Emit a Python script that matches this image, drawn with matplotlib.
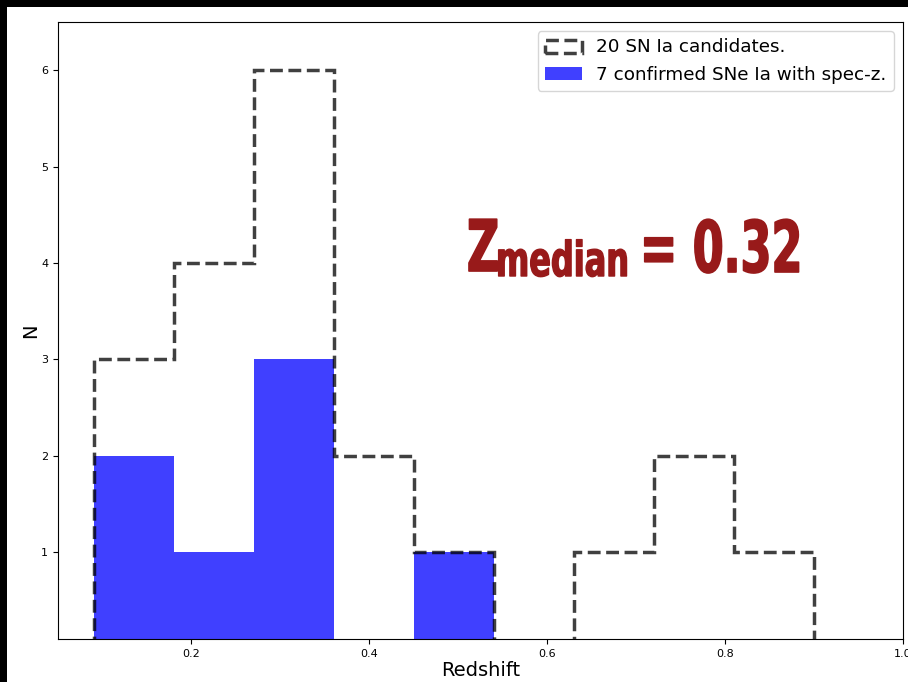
import numpy as np
import matplotlib
matplotlib.use("Agg")
import matplotlib.pyplot as plt
from matplotlib.patches import Rectangle
from matplotlib.patheffects import AbstractPathEffect
from matplotlib.transforms import Affine2D

# redshift bins and counts per bin
bin_edges = [0.09, 0.18, 0.27, 0.36, 0.45, 0.54, 0.63, 0.72, 0.81, 0.90]
n_candidates = [3, 4, 6, 2, 1, 0, 1, 2, 1]
n_confirmed = [2, 1, 3, 0, 1, 0, 0, 0, 0]
z_median = 0.32

label_cand = "20 SN Ia candidates."
label_conf = "7 confirmed SNe Ia with spec-z."


class Tall(AbstractPathEffect):
    """Stretch glyphs upward from the baseline and thicken them a little."""

    def __init__(self, sy, lw=1.0):
        super().__init__()
        self.sy = sy
        self.lw = lw

    def draw_path(self, renderer, gc, tpath, affine, rgbFace=None):
        gc0 = renderer.new_gc()
        gc0.copy_properties(gc)
        gc0.set_linewidth(self.lw)
        gc0.set_foreground(rgbFace)
        renderer.draw_path(gc0, tpath, Affine2D().scale(1, self.sy) + affine, rgbFace)
        gc0.restore()


fig = plt.figure(figsize=(9.08, 6.82), dpi=100)
fig.patch.set_facecolor("black")
fig.patches.append(Rectangle((7 / 908, 0), 1, 675 / 682, transform=fig.transFigure,
                             facecolor="white", edgecolor="none", zorder=-1))

ax = fig.add_axes([58 / 908, 43 / 682, 845 / 908, 617 / 682])

centres = np.array(bin_edges[:-1]) + 0.045
ax.hist(centres, bins=bin_edges, weights=n_candidates, histtype="step",
        ls="--", lw=2.5, color="k", alpha=0.75, label=label_cand)
ax.hist(centres, bins=bin_edges, weights=n_confirmed, color="b", alpha=0.75,
        label=label_conf)

ax.set_xlim(0.05, 1.0)
ax.set_ylim(0.1, 6.5)
ax.tick_params(labelsize=8)
ax.set_xlabel("Redshift", fontsize=14, labelpad=2)
ax.set_ylabel("N", fontsize=14, labelpad=1)
ax.legend(loc="upper right", fontsize=13.2)

red = "#981a1a"
kw = dict(transform=ax.transAxes, fontweight="bold", color=red, va="baseline")
ax.text(0.4840, 0.5964, "Z", fontsize=32, path_effects=[Tall(1.6, 1.2)], **kw)
ax.text(0.5183, 0.5883, "median", fontsize=23, path_effects=[Tall(1.5, 1.0)], **kw)
ax.text(0.6888, 0.5948, "= {:.2f}".format(z_median), fontsize=32,
        path_effects=[Tall(1.6, 1.2)], **kw)

fig.savefig("out.png", dpi=100, facecolor=fig.get_facecolor())
